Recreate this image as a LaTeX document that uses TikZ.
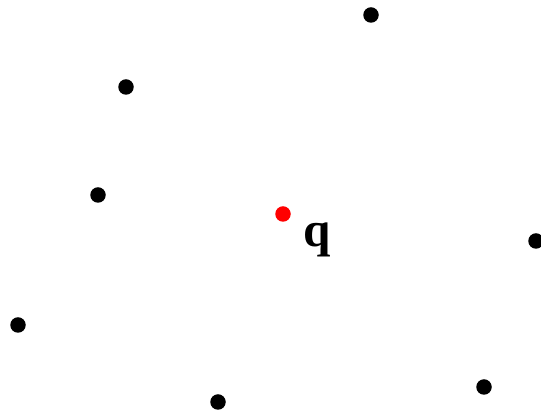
\documentclass[tikz,border=0pt]{standalone}
\usepackage{fontspec}
\setmainfont{Liberation Serif}
\usepackage{tikz}
\tikzset{
  site/.style={circle, fill=black, minimum size=0.31cm, inner sep=0pt},
  query/.style={circle, fill=red, minimum size=0.31cm, inner sep=0pt},
  qlabel/.style={font=\fontsize{28}{30}\selectfont\bfseries, inner sep=0pt}
}
\begin{document}
\begin{tikzpicture}
  \useasboundingbox (0,0) rectangle (10.82,8.26);

  % Sites around the query point.
  \foreach \x/\y [count=\i] in {7.42/7.96, 2.52/6.52, 1.96/4.36, 10.72/3.44,
    0.36/1.76, 4.36/0.22, 9.68/0.52}{
    \node[site] (p\i) at (\x,\y) {};
  }

  \node[query] (q) at (5.66,3.98) {};
  \node[qlabel] (qname) at (6.34,3.46) {q};
\end{tikzpicture}
\end{document}
